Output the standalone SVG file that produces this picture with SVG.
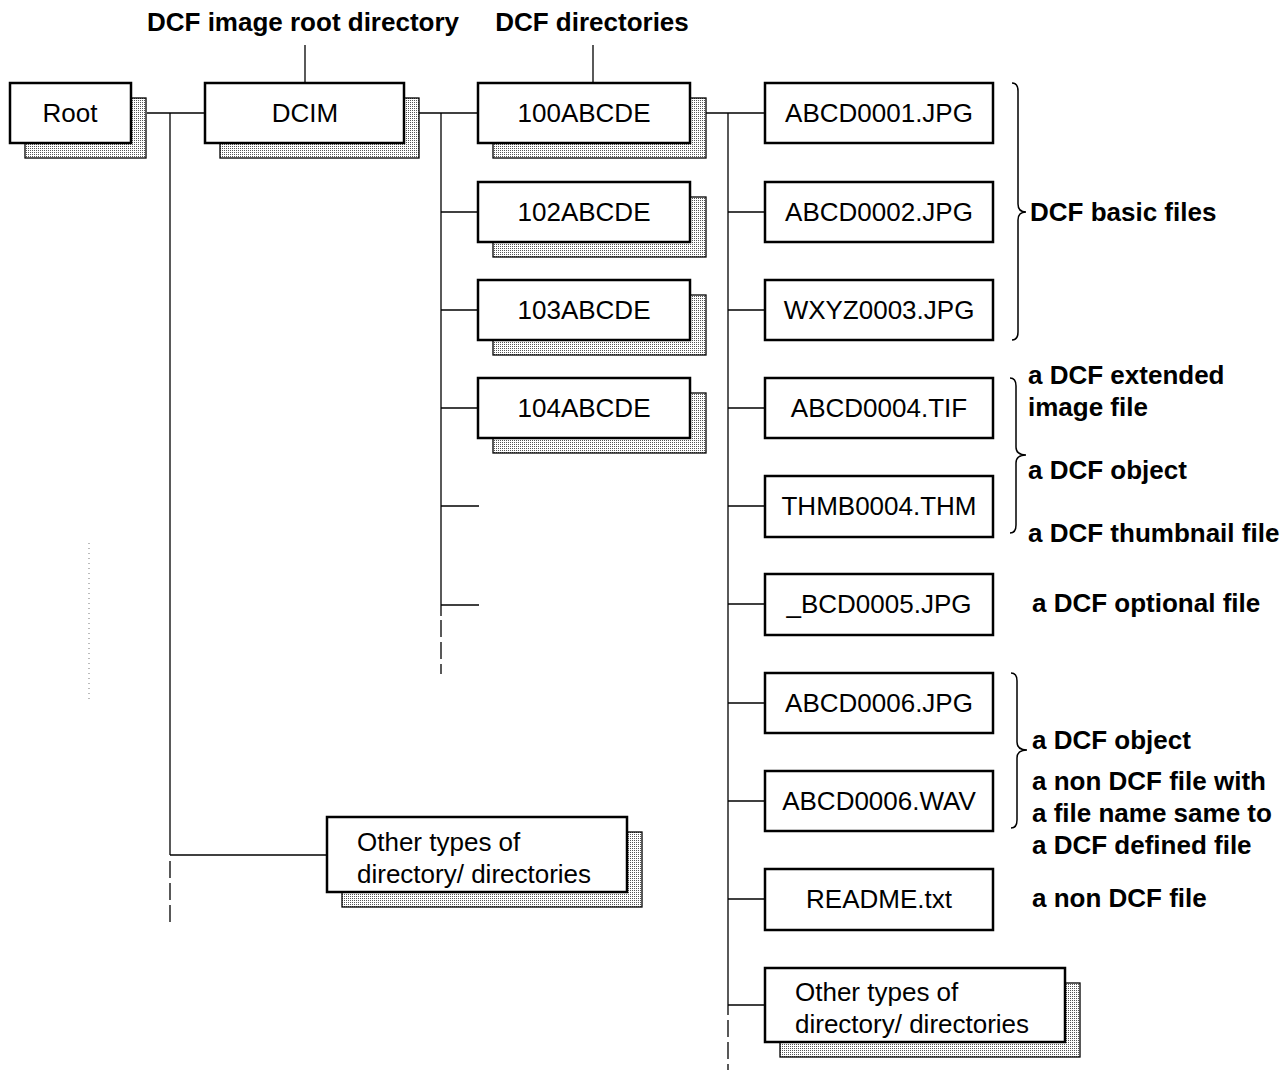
<svg xmlns="http://www.w3.org/2000/svg" width="1288" height="1070" viewBox="0 0 1288 1070">
<defs>
<pattern id="dots" width="2" height="2" patternUnits="userSpaceOnUse">
<rect width="2" height="2" fill="#ffffff"/>
<rect width="1" height="1" fill="#555555"/>
</pattern>
<style>
.box{fill:#fff;stroke:#000;stroke-width:2.5}
.shadow{fill:url(#dots);stroke:#000;stroke-width:1.3}
.t{font-family:"Liberation Sans",Arial,sans-serif;font-size:26px;fill:#000}
.c{text-anchor:middle}
.b{font-family:"Liberation Sans",Arial,sans-serif;font-size:26px;font-weight:bold;fill:#000}
.ln{stroke:#000;stroke-width:1.3;fill:none}
.dash{stroke:#000;stroke-width:1.3;fill:none;stroke-dasharray:17,5}
.brace{stroke:#000;stroke-width:1.5;fill:none}
</style>
</defs>
<rect width="1288" height="1070" fill="#fff"/>

<g id="connectors">
<line class="ln" x1="305" y1="45" x2="305" y2="83"/>
<line class="ln" x1="593" y1="45" x2="593" y2="83"/>
<line class="ln" x1="147" y1="113" x2="205" y2="113"/>
<line class="ln" x1="170" y1="113" x2="170" y2="855"/>
<line class="dash" x1="170" y1="861" x2="170" y2="925"/>
<line class="ln" x1="170" y1="855" x2="328" y2="855"/>
<line class="ln" x1="419" y1="113" x2="478" y2="113"/>
<line class="ln" x1="441" y1="113" x2="441" y2="616"/>
<line class="dash" x1="441" y1="620" x2="441" y2="674"/>
<line class="ln" x1="441" y1="212" x2="478" y2="212"/>
<line class="ln" x1="441" y1="310" x2="478" y2="310"/>
<line class="ln" x1="441" y1="408" x2="478" y2="408"/>
<line class="ln" x1="441" y1="506" x2="479" y2="506"/>
<line class="ln" x1="441" y1="605" x2="479" y2="605"/>
<line class="ln" x1="706" y1="113" x2="765" y2="113"/>
<line class="ln" x1="728" y1="113" x2="728" y2="1015"/>
<line class="dash" x1="728" y1="1020" x2="728" y2="1070"/>
<line class="ln" x1="728" y1="212" x2="765" y2="212"/>
<line class="ln" x1="728" y1="310" x2="765" y2="310"/>
<line class="ln" x1="728" y1="408" x2="765" y2="408"/>
<line class="ln" x1="728" y1="506" x2="765" y2="506"/>
<line class="ln" x1="728" y1="604" x2="765" y2="604"/>
<line class="ln" x1="728" y1="703" x2="765" y2="703"/>
<line class="ln" x1="728" y1="801" x2="765" y2="801"/>
<line class="ln" x1="728" y1="899" x2="765" y2="899"/>
<line class="ln" x1="728" y1="1005" x2="765" y2="1005"/>
<line x1="89" y1="543" x2="89" y2="703" stroke="#bbbbbb" stroke-width="2" stroke-dasharray="1,4"/>
</g>

<g id="labels">
<text class="b c" x="303" y="31">DCF image root directory</text>
<text class="b c" x="592" y="31">DCF directories</text>
</g>

<g id="root">
<rect class="shadow" x="25" y="98" width="121" height="60"/>
<rect class="box" x="10" y="83" width="121" height="60"/>
<text class="t c" x="70" y="122">Root</text>
</g>
<g id="dcim">
<rect class="shadow" x="220" y="98" width="199" height="60"/>
<rect class="box" x="205" y="83" width="199" height="60"/>
<text class="t c" x="305" y="122">DCIM</text>
</g>

<g id="d100">
<rect class="shadow" x="493" y="98" width="213" height="60"/>
<rect class="box" x="478" y="83" width="212" height="60"/>
<text class="t c" x="584" y="122">100ABCDE</text>
</g>
<g id="d102">
<rect class="shadow" x="493" y="197" width="213" height="60"/>
<rect class="box" x="478" y="182" width="212" height="60"/>
<text class="t c" x="584" y="221">102ABCDE</text>
</g>
<g id="d103">
<rect class="shadow" x="493" y="295" width="213" height="60"/>
<rect class="box" x="478" y="280" width="212" height="60"/>
<text class="t c" x="584" y="319">103ABCDE</text>
</g>
<g id="d104">
<rect class="shadow" x="493" y="393" width="213" height="60"/>
<rect class="box" x="478" y="378" width="212" height="60"/>
<text class="t c" x="584" y="417">104ABCDE</text>
</g>

<g id="other1">
<rect class="shadow" x="342" y="832" width="300" height="75"/>
<rect class="box" x="327" y="817" width="300" height="75"/>
<text class="t" x="357" y="851">Other types of</text>
<text class="t" x="357" y="883">directory/ directories</text>
</g>

<g id="f1">
<rect class="box" x="765" y="83" width="228" height="60"/>
<text class="t c" x="879" y="122">ABCD0001.JPG</text>
</g>
<g id="f2">
<rect class="box" x="765" y="182" width="228" height="60"/>
<text class="t c" x="879" y="221">ABCD0002.JPG</text>
</g>
<g id="f3">
<rect class="box" x="765" y="280" width="228" height="60"/>
<text class="t c" x="879" y="319">WXYZ0003.JPG</text>
</g>
<g id="f4">
<rect class="box" x="765" y="378" width="228" height="60"/>
<text class="t c" x="879" y="417">ABCD0004.TIF</text>
</g>
<g id="f5">
<rect class="box" x="765" y="476" width="228" height="61"/>
<text class="t c" x="879" y="515">THMB0004.THM</text>
</g>
<g id="f6">
<rect class="box" x="765" y="574" width="228" height="61"/>
<text class="t c" x="879" y="613">_BCD0005.JPG</text>
</g>
<g id="f7">
<rect class="box" x="765" y="673" width="228" height="60"/>
<text class="t c" x="879" y="712">ABCD0006.JPG</text>
</g>
<g id="f8">
<rect class="box" x="765" y="771" width="228" height="60"/>
<text class="t c" x="879" y="810">ABCD0006.WAV</text>
</g>
<g id="f9">
<rect class="box" x="765" y="869" width="228" height="61"/>
<text class="t c" x="879" y="908">README.txt</text>
</g>
<g id="other2">
<rect class="shadow" x="780" y="983" width="300" height="74"/>
<rect class="box" x="765" y="968" width="300" height="74"/>
<text class="t" x="795" y="1001">Other types of</text>
<text class="t" x="795" y="1033">directory/ directories</text>
</g>

<g id="braces">
<path class="brace" d="M1012,83 Q1018,83 1018,91 L1018,204 Q1018,212 1026,212 Q1018,212 1018,220 L1018,332 Q1018,340 1012,340"/>
<path class="brace" d="M1010,378 Q1016,378 1016,386 L1016,447 Q1016,455 1026,455 Q1016,455 1016,463 L1016,525 Q1016,533 1010,533"/>
<path class="brace" d="M1011,673 Q1017,673 1017,681 L1017,742 Q1017,750 1027,750 Q1017,750 1017,758 L1017,820 Q1017,828 1011,828"/>
</g>

<g id="notes">
<text class="b" x="1030" y="221">DCF basic files</text>
<text class="b" x="1028" y="384">a DCF extended</text>
<text class="b" x="1028" y="416">image file</text>
<text class="b" x="1028" y="479">a DCF object</text>
<text class="b" x="1028" y="542">a DCF thumbnail file</text>
<text class="b" x="1032" y="612">a DCF optional file</text>
<text class="b" x="1032" y="749">a DCF object</text>
<text class="b" x="1032" y="790">a non DCF file with</text>
<text class="b" x="1032" y="822">a file name same to</text>
<text class="b" x="1032" y="854">a DCF defined file</text>
<text class="b" x="1032" y="907">a non DCF file</text>
</g>
</svg>
